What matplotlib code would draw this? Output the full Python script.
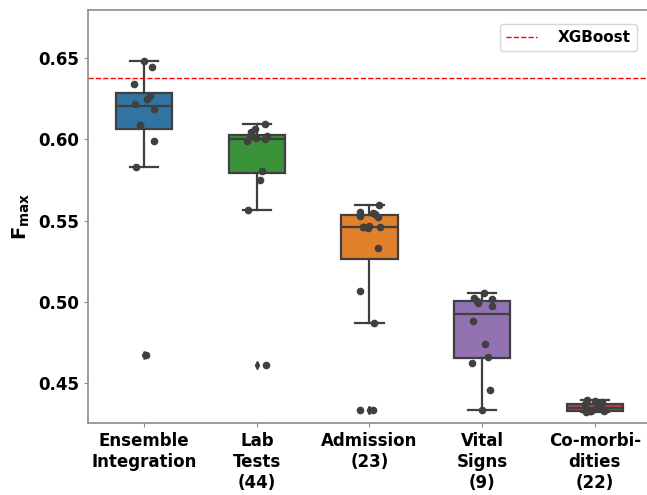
import numpy as np
import matplotlib
matplotlib.use("Agg")
import matplotlib.pyplot as plt

categories = ["Ensemble\nIntegration", "Lab\nTests\n(44)", "Admission\n(23)",
              "Vital\nSigns\n(9)", "Co-morbi-\ndities\n(22)"]
colors = ["#3274a1", "#3a923a", "#e1812c", "#9372b2", "#c03d3e"]

ensemble = [0.648, 0.6445, 0.6344, 0.6268, 0.6251, 0.622, 0.6186, 0.609,
            0.6087, 0.5989, 0.583, 0.467]
lab_tests = [0.6095, 0.6065, 0.6048, 0.6022, 0.6013, 0.6006, 0.6000, 0.5990,
             0.5805, 0.575, 0.5567, 0.461]
admission = [0.5597, 0.5553, 0.555, 0.5542, 0.553, 0.5525, 0.5467, 0.5463,
             0.546, 0.5458, 0.5453, 0.5332, 0.5065, 0.4872, 0.4334, 0.4334]
vital_signs = [0.5054, 0.5023, 0.5015, 0.5005, 0.4991, 0.4974, 0.4882, 0.4742,
               0.4662, 0.4621, 0.446, 0.4334]
comorbidities = [0.4395, 0.439, 0.4382, 0.437, 0.4358, 0.435, 0.434, 0.4332,
                 0.433, 0.4328, 0.4326, 0.4323]
xgboost = 0.638

data = [ensemble, lab_tests, admission, vital_signs, comorbidities]
gray = "#3f3f3f"

fig = plt.figure(figsize=(6.47, 4.95), dpi=100)
ax = fig.add_axes([88 / 647, 1 - 423 / 495, 563 / 647, 413 / 495])

bp = ax.boxplot(data, positions=range(len(data)), widths=0.5, patch_artist=True,
                boxprops=dict(edgecolor=gray, linewidth=1.6),
                medianprops=dict(color=gray, linewidth=1.6),
                whiskerprops=dict(color=gray, linewidth=1.6),
                capprops=dict(color=gray, linewidth=1.6),
                flierprops=dict(marker="d", markerfacecolor=gray,
                                markeredgecolor=gray, markersize=4))
for patch, c in zip(bp["boxes"], colors):
    patch.set_facecolor(c)

# strip points with a fixed jitter pattern
for i, vals in enumerate(data):
    jit = 0.09 * np.sin(np.arange(len(vals)) * 2.3 + i)
    ax.plot(i + jit, vals, "o", color="#404040", markersize=4.5, zorder=5)

ax.axhline(xgboost, color="red", ls="--", lw=1, label="XGBoost")

ax.set_xlim(-0.5, len(data) - 0.5)
ax.set_ylim(0.4254, 0.6797)
ax.set_yticks([0.45, 0.50, 0.55, 0.60, 0.65])
ax.set_xticks(range(len(data)))
ax.set_xticklabels(categories, fontsize=12, fontweight="bold")
for t in ax.get_yticklabels():
    t.set_fontsize(12)
    t.set_fontweight("bold")
ax.set_ylabel(r"$\mathbf{F}_{\mathbf{max}}$", fontsize=14)

for s in ax.spines.values():
    s.set_color("#8c8c8c")
    s.set_linewidth(1.2)
ax.tick_params(color="#8c8c8c", length=3)

ax.legend(loc="upper right", prop=dict(weight="bold", size=11),
          handlelength=2.0, handletextpad=1.4, borderaxespad=0.9)

fig.savefig("out.png", dpi=100)
